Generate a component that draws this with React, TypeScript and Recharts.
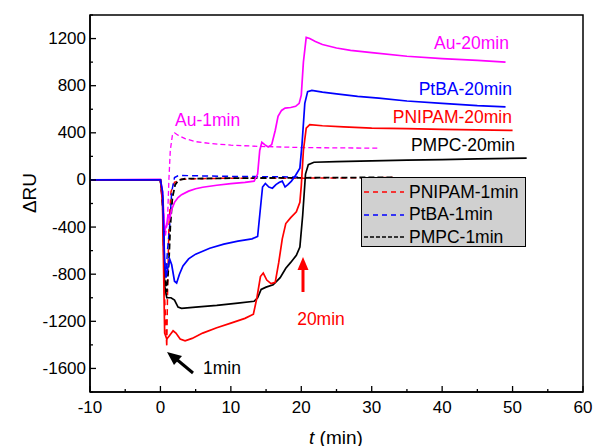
import React from 'react';
import { LineChart, Line, XAxis, YAxis, ReferenceArea, Legend } from 'recharts';

// ---- tick arrays ----
const xMajorTicks = [-10, 0, 10, 20, 30, 40, 50, 60];
const xMinorTicks = [-5, 5, 15, 25, 35, 45, 55];
const yMajorTicks = [-1600, -1200, -800, -400, 0, 400, 800, 1200];
const yMinorTicks = [-1800, -1400, -1000, -600, -200, 200, 600, 1000, 1400];

// ---- legend entries ----
const legendNames = ['PNIPAM-1min', 'PtBA-1min', 'PMPC-1min'];
const legendColors = ['#ff0000', '#0000ff', '#000000'];
const legendDashes = ['5 4', '5 4', '4 2'];

// ---- series (t [min], ΔRU) ----
const au20: number[][] = [
  [-10, 0], [-5, 3], [0, 5], [0.3, -100], [0.6, -430], [0.9, -380], [1.1, -290], [1.3, -330], [1.6, -250],
  [2, -190], [2.5, -150], [3, -125], [4, -95], [5, -75], [6, -62], [8, -45], [10, -32], [12, -20], [13.3, -10],
  [13.8, 50], [14.1, 250], [14.4, 320], [14.8, 300], [15.3, 280], [15.8, 300], [16.3, 420], [16.7, 540],
  [17.2, 590], [17.7, 610], [18.5, 615], [19.2, 625], [19.7, 650], [20.0, 720], [20.3, 1000], [20.7, 1210],
  [21.2, 1200], [22, 1175], [23, 1150], [25, 1120], [27, 1100], [30, 1080], [35, 1050], [40, 1030], [45, 1015], [49, 1000],
];
const ptba20: number[][] = [
  [-10, 0], [0, 0], [0.3, -100], [0.6, -700], [0.8, -830], [1.0, -760], [1.3, -670], [1.6, -720], [2.0, -860],
  [2.3, -875], [2.7, -800], [3.2, -730], [4, -670], [5, -630], [7, -580], [9, -545], [11, -520], [13, -500],
  [13.8, -480], [14.1, -300], [14.5, -60], [14.9, -30], [15.4, -60], [15.9, -70], [16.4, -40], [16.9, -20],
  [17.3, -10], [17.7, -60], [18.1, -40], [18.6, -10], [19.2, 40], [19.8, 100], [20.1, 300], [20.5, 650],
  [20.9, 750], [21.5, 760], [23, 745], [25, 730], [28, 710], [31, 695], [35, 670], [40, 650], [45, 630], [49, 620],
];
const pnipam20: number[][] = [
  [-10, 0], [0, 0], [0.3, -200], [0.6, -1300], [0.9, -1350], [1.3, -1320], [1.8, -1280], [2.2, -1300],
  [2.8, -1350], [3.5, -1365], [4.5, -1345], [6, -1300], [8, -1255], [10, -1215], [12, -1175], [13.2, -1140],
  [13.7, -1000], [14.2, -820], [14.6, -790], [15.1, -850], [15.7, -880], [16.3, -870], [16.8, -700],
  [17.3, -500], [17.8, -370], [18.5, -320], [19.3, -270], [19.8, -190], [20.0, -50], [20.3, 250], [20.7, 440],
  [21.2, 470], [23, 460], [26, 450], [30, 440], [35, 435], [40, 430], [45, 425], [50, 420],
];
const pmpc20: number[][] = [
  [-10, 0], [0, 0], [0.3, -150], [0.6, -900], [0.9, -1000], [1.5, -1000], [2.0, -1020], [2.5, -1080],
  [3, -1090], [5, -1080], [8, -1065], [11, -1045], [13.3, -1030], [13.8, -1000], [14.3, -930], [15, -910],
  [16, -890], [17, -830], [17.8, -750], [18.5, -700], [19.3, -640], [19.8, -570], [20.2, -300], [20.6, 50],
  [21, 130], [21.8, 150], [25, 155], [30, 162], [35, 168], [40, 172], [45, 178], [52, 185],
];
const au1: number[][] = [
  [-10, 0], [0, 0], [0.3, -150], [0.7, -480], [1.0, -350], [1.2, 0], [1.4, 250], [1.7, 380], [2.0, 400],
  [2.5, 380], [3.5, 350], [5, 325], [7, 310], [10, 295], [14, 285], [20, 275], [25, 272], [31, 270],
];
const pnipam1: number[][] = [
  [-10, 0], [0, 0], [0.3, -200], [0.6, -1000], [0.9, -1420], [1.0, -1000], [1.2, -400], [1.5, -100],
  [2, -20], [3, 5], [5, 10], [10, 15], [20, 15], [33, 20],
];
const ptba1: number[][] = [
  [-10, 0], [0, 0], [0.3, -200], [0.6, -700], [0.8, -800], [1.0, -600], [1.3, -400], [1.6, -100],
  [2.0, 20], [2.5, 35], [3, 38], [5, 35], [10, 30], [20, 25],
];
const pmpc1: number[][] = [
  [-10, 0], [0, 0], [0.3, -150], [0.6, -800], [0.9, -950], [1.2, -700], [1.4, -400], [1.7, -150],
  [2.1, -40], [2.6, 0], [3.5, 10], [6, 12], [10, 15], [20, 18], [33, 22],
];

const toRows = (a: number[][]) => a.map(([t, v]) => ({ t, v }));

const FONT = '"Liberation Sans", Arial, sans-serif';

const XTick = (props: any) => {
  const { x, y, payload } = props;
  const major = xMajorTicks.includes(payload.value);
  return (
    <g>
      <line x1={x} x2={x} y1={y} y2={y - (major ? 6 : 3)} stroke="#000" strokeWidth={1.3} />
      {major && (
        <text x={x} y={y + 15} textAnchor="middle" dominantBaseline="central" fontSize={17} fontFamily={FONT} fill="#000">
          {payload.value}
        </text>
      )}
    </g>
  );
};

const YTick = (props: any) => {
  const { x, y, payload } = props;
  const major = yMajorTicks.includes(payload.value);
  return (
    <g>
      <line x1={x} x2={x + (major ? 6 : 3)} y1={y} y2={y} stroke="#000" strokeWidth={1.3} />
      {major && (
        <text x={x - 4} y={y} textAnchor="end" dominantBaseline="central" fontSize={17} fontFamily={FONT} fill="#000">
          {payload.value}
        </text>
      )}
    </g>
  );
};

const LegendBox = (props: any) => {
  const items = ((props.payload || []) as any[]);
  const rows = legendNames.map((n, i) => {
    const found = items.find((it) => it.value === n);
    return { name: n, color: found?.color || legendColors[i], dash: legendDashes[i] };
  });
  return (
    <div style={{ width: 163, height: 68, background: '#d0d0d0', border: '1.5px solid #000', fontFamily: FONT, fontSize: 17.5, color: '#000', position: 'relative' }}>
      {rows.map((it, i) => (
        <div key={i} style={{ position: 'absolute', left: 0, top: 4 + i * 22.5, height: 20, display: 'flex', alignItems: 'center' }}>
          <svg width={47} height={20} style={{ display: 'block' }}>
            <line x1={2} x2={42} y1={10} y2={10} stroke={it.color} strokeWidth={1.3} strokeDasharray={it.dash} />
          </svg>
          <span style={{ whiteSpace: 'nowrap' }}>{it.name}</span>
        </div>
      ))}
    </div>
  );
};

export default function App() {
  return (
    <div style={{ position: 'absolute', left: 0, top: 0, width: 595, height: 446, background: '#fff' }}>
      <LineChart width={595} height={446} margin={{ top: 15, right: 12, bottom: 0, left: 30 }}>
        <XAxis
          dataKey="t"
          type="number"
          domain={[-10, 60]}
          ticks={[...xMajorTicks, ...xMinorTicks].sort((a, b) => a - b)}
          tick={<XTick />}
          tickLine={false}
          tickSize={0}
          tickMargin={0}
          height={54}
          axisLine={{ stroke: '#000', strokeWidth: 1.5 }}
          allowDataOverflow
          interval={0}
        />
        <YAxis
          type="number"
          domain={[-1800, 1400]}
          ticks={[...yMajorTicks, ...yMinorTicks].sort((a, b) => a - b)}
          tick={<YTick />}
          tickLine={false}
          tickSize={0}
          tickMargin={0}
          width={60}
          axisLine={{ stroke: '#000', strokeWidth: 1.5 }}
          allowDataOverflow
          interval={0}
        />
        <ReferenceArea x1={-10} x2={60} y1={-1800} y2={1400} fill="none" stroke="#000" strokeWidth={1.5} />
        <Line data={toRows(au1)} dataKey="v" name="Au-1min" stroke="#ff00ff" strokeWidth={1.3} strokeDasharray="5 3" dot={false} type="linear" isAnimationActive={false} />
        <Line data={toRows(pnipam1)} dataKey="v" name="PNIPAM-1min" stroke="#ff0000" strokeWidth={1.5} strokeDasharray="6 4" dot={false} type="linear" isAnimationActive={false} />
        <Line data={toRows(ptba1)} dataKey="v" name="PtBA-1min" stroke="#0000ff" strokeWidth={1.5} strokeDasharray="6 4" dot={false} type="linear" isAnimationActive={false} />
        <Line data={toRows(pmpc1)} dataKey="v" name="PMPC-1min" stroke="#000000" strokeWidth={1.8} strokeDasharray="6 3" dot={false} type="linear" isAnimationActive={false} />
        <Line data={toRows(au20)} dataKey="v" name="Au-20min" stroke="#ff00ff" strokeWidth={1.7} dot={false} type="linear" isAnimationActive={false} />
        <Line data={toRows(pmpc20)} dataKey="v" name="PMPC-20min" stroke="#000000" strokeWidth={1.7} dot={false} type="linear" isAnimationActive={false} />
        <Line data={toRows(pnipam20)} dataKey="v" name="PNIPAM-20min" stroke="#ff0000" strokeWidth={1.7} dot={false} type="linear" isAnimationActive={false} />
        <Line data={toRows(ptba20)} dataKey="v" name="PtBA-20min" stroke="#0000ff" strokeWidth={1.7} dot={false} type="linear" isAnimationActive={false} />
        <Legend
          layout="vertical"
          verticalAlign="middle"
          align="center"
          content={<LegendBox />}
          wrapperStyle={{ left: 361, top: 177, width: 166, height: 71 }}
        />
      </LineChart>
      <svg width={595} height={446} style={{ position: 'absolute', left: 0, top: 0, pointerEvents: 'none' }} fontFamily={FONT}>
        <text x={29} y={193} transform="rotate(-90 29 193)" textAnchor="middle" dominantBaseline="central" fontSize={19}>ΔRU</text>
        <text x={309} y={437} dominantBaseline="central" fontSize={19}>
          <tspan fontStyle="italic">t</tspan> (min)
        </text>
        <text x={175} y={120} dominantBaseline="central" fontSize={17.5} fill="#ff00ff">Au-1min</text>
        <text x={509} y={43} textAnchor="end" dominantBaseline="central" fontSize={17.5} fill="#ff00ff">Au-20min</text>
        <text x={512} y={89} textAnchor="end" dominantBaseline="central" fontSize={17.5} fill="#0000ff">PtBA-20min</text>
        <text x={512} y={117} textAnchor="end" dominantBaseline="central" fontSize={17.5} fill="#ff0000">PNIPAM-20min</text>
        <text x={515} y={145} textAnchor="end" dominantBaseline="central" fontSize={17.5} fill="#000">PMPC-20min</text>
        <text x={321} y={319} textAnchor="middle" dominantBaseline="central" fontSize={17.5} fill="#ff0000">20min</text>
        <text x={203} y={368} dominantBaseline="central" fontSize={17.5} fill="#000">1min</text>
        <line x1={303} x2={303} y1={292} y2={268} stroke="#ff0000" strokeWidth={3} />
        <polygon points="303,257 297.5,270 308.5,270" fill="#ff0000" />
        <line x1={193} y1={373} x2={175} y2={358} stroke="#000" strokeWidth={3} />
        <polygon points="167,352 182,356 174,365" fill="#000" />
      </svg>
    </div>
  );
}
